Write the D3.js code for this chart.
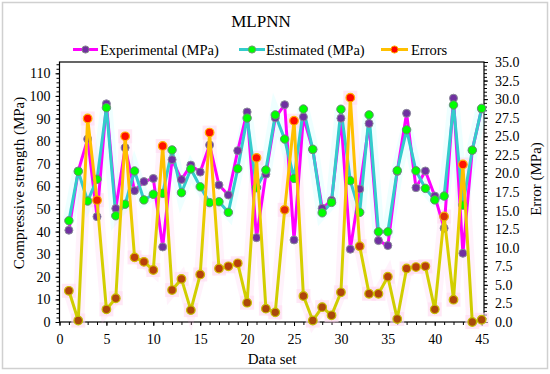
<!DOCTYPE html>
<html>
<head>
<meta charset="utf-8">
<script src="https://cdn.jsdelivr.net/npm/d3@7"></script>
<style>
  html, body { margin: 0; padding: 0; background: #fff; }
  svg { display: block; }
  text { font-family: "Liberation Serif", "Times New Roman", serif; fill: #000; }
</style>
</head>
<body>
<svg id="chart" width="550" height="374"></svg>
<script>
// ---- data ----
const dataSet = d3.range(1, 46);
const experimental = [40.6, 66.8, 80.9, 46.6, 96.5, 50.2, 77.1, 58.1, 62.1, 63.5,
  33.2, 71.8, 63.0, 69.4, 66.3, 78.3, 60.6, 56.2, 75.8, 92.9,
  37.3, 65.4, 90.3, 96.1, 36.3, 90.7, 76.2, 50.3, 53.8, 90.1,
  32.2, 58.8, 87.8, 36.0, 33.8, 66.6, 92.3, 59.4, 66.8, 55.7,
  41.5, 99.0, 30.4, 76.0, 94.2];
const estimated = [44.8, 66.6, 53.5, 63.1, 94.8, 47.0, 52.1, 66.8, 54.0, 56.5,
  56.9, 76.1, 57.2, 67.7, 59.8, 52.8, 53.2, 48.5, 67.8, 90.2,
  59.4, 67.2, 91.6, 80.9, 63.5, 94.2, 76.4, 48.3, 52.9, 94.1,
  62.5, 48.5, 91.6, 39.9, 39.9, 67.0, 85.0, 66.9, 59.1, 54.0,
  55.7, 96.0, 51.7, 76.0, 94.5];
const errors = [4.2, 0.2, 27.4, 16.4, 1.7, 3.2, 25.0, 8.7, 8.1, 7.0,
  23.7, 4.3, 5.8, 1.6, 6.4, 25.5, 7.2, 7.5, 7.9, 2.6,
  22.1, 1.8, 1.3, 15.1, 27.1, 3.5, 0.2, 2.0, 0.9, 4.0,
  30.2, 10.2, 3.8, 3.8, 6.1, 0.4, 7.2, 7.4, 7.5, 1.7,
  14.2, 3.0, 21.2, 0.0, 0.3];
const xTicks = [0, 5, 10, 15, 20, 25, 30, 35, 40, 45];
const leftTicks = d3.range(0, 111, 10);
const rightTicks = d3.range(0, 35.01, 2.5);
const seriesNames = ["Experimental (MPa)", "Estimated (MPa)", "Errors"];
const title = "MLPNN";

// ---- layout ----
const svg = d3.select("#chart");
const L = 59.5, R = 484, T = 62, B = 322;
const x = d3.scaleLinear().domain([0, 45.25]).range([L, R]);
const yL = d3.scaleLinear().domain([0, 115]).range([B, T]);
const yR = d3.scaleLinear().domain([0, 35]).range([B, T]);

// outer border
svg.append("rect").attr("x", 2.5).attr("y", 2.5).attr("width", 545).attr("height", 366)
  .attr("fill", "#fff").attr("stroke", "#d0d0d0").attr("stroke-width", 1.5);

const defs = svg.append("defs");
function grad(id, stops) {
  const g = defs.append("linearGradient").attr("id", id)
    .attr("gradientUnits", "userSpaceOnUse").attr("x1", 0).attr("x2", 0).attr("y1", T).attr("y2", B);
  stops.forEach(s => g.append("stop").attr("offset", s[0]).attr("stop-color", s[1]));
}
grad("errLine", [[0, "#ffc000"], [0.48, "#ffc000"], [0.62, "#e8cc00"], [0.74, "#d6d000"], [1, "#cccc00"]]);
grad("errDot", [[0, "#ff0000"], [0.48, "#ff1800"], [0.64, "#d03a08"], [0.78, "#b8400a"], [1, "#a84a0a"]]);
grad("errDotStroke", [[0, "#ffb000"], [0.5, "#ffb000"], [0.7, "#d8b800"], [1, "#c0c000"]]);

// title
svg.append("text").attr("x", 261).attr("y", 27).attr("text-anchor", "middle")
  .style("font-size", "17px").text(title);

// legend
const legendItems = [
  { name: seriesNames[0], line: "#ff00ff", dot: "#7030a0", stroke: "#8a8a8a", x0: 73, x1: 98, tx: 100 },
  { name: seriesNames[1], line: "#33cccc", dot: "#00ff00", stroke: "#6a9a6a", x0: 239, x1: 265, tx: 266 },
  { name: seriesNames[2], line: "#ffc000", dot: "#ff0000", stroke: "#ffb000", x0: 381, x1: 408, tx: 411 }
];
legendItems.forEach(d => {
  svg.append("line").attr("x1", d.x0).attr("x2", d.x1).attr("y1", 49.5).attr("y2", 49.5)
    .attr("stroke", d.line).attr("stroke-width", 3);
  svg.append("circle").attr("cx", (d.x0 + d.x1) / 2).attr("cy", 49.5).attr("r", 3.6)
    .attr("fill", d.dot).attr("stroke", d.stroke).attr("stroke-width", 1);
  svg.append("text").attr("x", d.tx).attr("y", 54.5).style("font-size", "14.5px").text(d.name);
});

// axes
const fontSize = "14px";
svg.append("g").attr("transform", `translate(${L},0)`)
  .call(d3.axisLeft(yL).tickValues(leftTicks).tickSize(4).tickPadding(5).tickFormat(d3.format("d")));
svg.append("g").attr("transform", `translate(${L},0)`)
  .call(d3.axisLeft(yL).tickValues(d3.range(0, 115, 2)).tickSize(3).tickFormat(""));
svg.append("g").attr("transform", `translate(${R},0)`)
  .call(d3.axisRight(yR).tickValues(rightTicks).tickSize(4).tickPadding(7).tickFormat(d3.format(".1f")));
svg.append("g").attr("transform", `translate(${R},0)`)
  .call(d3.axisRight(yR).tickValues(d3.range(0, 35.01, 0.5)).tickSize(3).tickFormat(""));
svg.append("g").attr("transform", `translate(0,${B})`)
  .call(d3.axisBottom(x).tickValues(xTicks).tickSize(4).tickPadding(8).tickFormat(d3.format("d")));
svg.append("g").attr("transform", `translate(0,${B})`)
  .call(d3.axisBottom(x).tickValues(d3.range(0, 46, 1)).tickSize(3).tickFormat(""));
svg.selectAll(".domain").remove();
svg.selectAll(".tick line").attr("stroke", "#000");
svg.selectAll(".tick text").style("font-size", fontSize)
  .style("font-family", '"Liberation Serif", "Times New Roman", serif').attr("fill", "#000");

// frame
svg.append("rect").attr("x", L).attr("y", T).attr("width", R - L).attr("height", B - T)
  .attr("fill", "none").attr("stroke", "#000").attr("stroke-width", 1.2);

// axis titles
svg.append("text").attr("transform", "translate(19,183) rotate(-90)")
  .attr("text-anchor", "middle").attr("dominant-baseline", "central")
  .style("font-size", "15px").text("Compressive strength (MPa)");
svg.append("text").attr("transform", "translate(536,179) rotate(-90)")
  .attr("text-anchor", "middle").attr("dominant-baseline", "central")
  .style("font-size", "15px").text("Error (MPa)");
svg.append("text").attr("x", 272).attr("y", 364).attr("text-anchor", "middle")
  .style("font-size", "15px").text("Data set");

// series
const plot = svg.append("g");
const lineL = vals => d3.line().x((d, i) => x(dataSet[i])).y(d => yL(d))(vals);
const lineR = vals => d3.line().x((d, i) => x(dataSet[i])).y(d => yR(d))(vals);

// soft glows
plot.append("path").attr("d", lineL(estimated)).attr("fill", "none")
  .attr("stroke", "#a0ffff").attr("stroke-width", 12).attr("stroke-opacity", 0.18);
plot.append("path").attr("d", lineR(errors)).attr("fill", "none")
  .attr("stroke", "#ffb0e8").attr("stroke-width", 12).attr("stroke-opacity", 0.16);
plot.selectAll(".errGlow").data(errors).join("rect")
  .attr("x", (d, i) => x(dataSet[i]) - 7).attr("y", d => yR(d) - 7)
  .attr("width", 14).attr("height", 14).attr("fill", "#ffd8f0").attr("opacity", 0.6);

plot.append("path").attr("d", lineL(experimental)).attr("fill", "none")
  .attr("stroke", "#ff00ff").attr("stroke-width", 3).attr("stroke-linejoin", "round");
plot.append("path").attr("d", lineL(estimated)).attr("fill", "none")
  .attr("stroke", "#33cccc").attr("stroke-width", 3).attr("stroke-linejoin", "round");

plot.selectAll(".expDot").data(experimental).join("circle")
  .attr("cx", (d, i) => x(dataSet[i])).attr("cy", d => yL(d)).attr("r", 4)
  .attr("fill", "#7030a0").attr("stroke", "#8a8a9a").attr("stroke-width", 1);
plot.selectAll(".estDot").data(estimated).join("circle")
  .attr("cx", (d, i) => x(dataSet[i])).attr("cy", d => yL(d)).attr("r", 4.2)
  .attr("fill", "#00ff00").attr("stroke", "#6a8a7a").attr("stroke-width", 1);

plot.append("path").attr("d", lineR(errors)).attr("fill", "none")
  .attr("stroke", "url(#errLine)").attr("stroke-width", 3).attr("stroke-linejoin", "round");
plot.selectAll(".errDot").data(errors).join("circle")
  .attr("cx", (d, i) => x(dataSet[i])).attr("cy", d => yR(d)).attr("r", 4.3)
  .attr("fill", "url(#errDot)").attr("stroke", "url(#errDotStroke)").attr("stroke-width", 1.2);
</script>
</body>
</html>
